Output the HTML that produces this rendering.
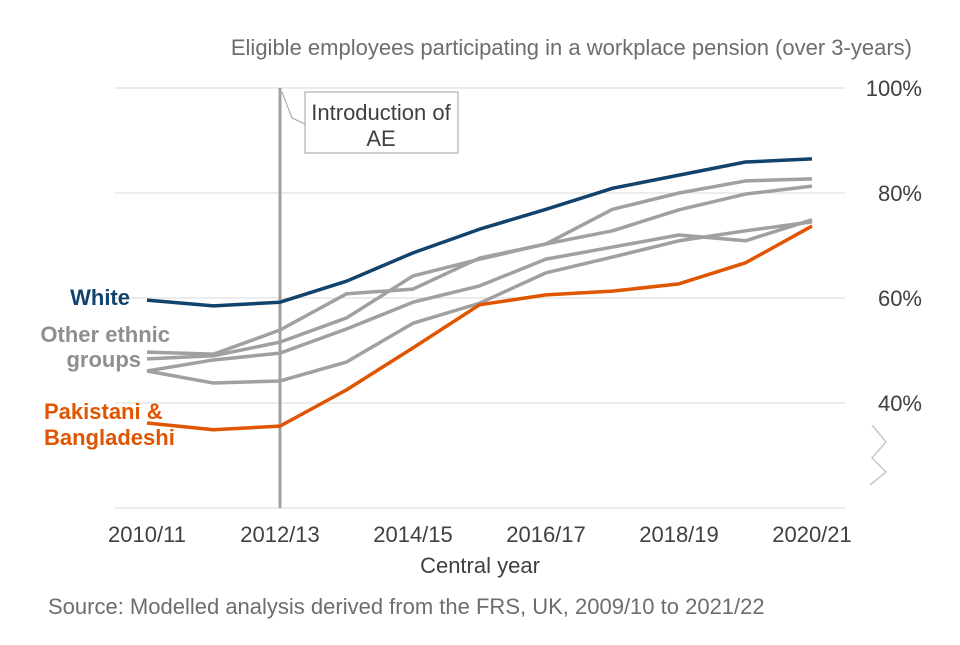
<!DOCTYPE html>
<html><head><meta charset="utf-8"><style>
body{margin:0;background:#fff;font-family:"Liberation Sans",Arial,sans-serif}
</style></head><body>
<svg id="chart" width="960" height="640" xmlns="http://www.w3.org/2000/svg" font-family="Liberation Sans, Arial, sans-serif">
<text x="912" y="55" text-anchor="end" font-size="22" fill="#6d6d6d">Eligible employees participating in a workplace pension (over 3-years)</text>
<g id="grid"></g>
<g id="yticks"></g>
<g id="xticks"></g>
<line x1="280" y1="88" x2="280" y2="508" stroke="#a0a0a0" stroke-width="3"/>
<polyline points="282,92 292,118 305,124" fill="none" stroke="#a0a0a0" stroke-width="1"/>
<rect x="305" y="92" width="153" height="61" fill="#fff" stroke="#a0a0a0"/>
<text x="381" y="120" text-anchor="middle" font-size="22" fill="#404040">Introduction of</text>
<text x="381" y="146" text-anchor="middle" font-size="22" fill="#404040">AE</text>
<polyline points="872,425 886,442 872,458 886,472 870,485" fill="none" stroke="#c8c8c8" stroke-width="1.5"/>
<g id="series"></g>
<text x="130" y="305" text-anchor="end" font-size="22" font-weight="bold" fill="#12436d">White</text>
<text x="170" y="342" text-anchor="end" font-size="22" font-weight="bold" fill="#8f8f8f">Other ethnic</text>
<text x="141" y="367" text-anchor="end" font-size="22" font-weight="bold" fill="#8f8f8f">groups</text>
<text x="44" y="419" font-size="22" font-weight="bold" fill="#e05500">Pakistani &amp;</text>
<text x="44" y="445" font-size="22" font-weight="bold" fill="#e05500">Bangladeshi</text>
<text x="480" y="573" text-anchor="middle" font-size="22" fill="#404040">Central year</text>
<text x="48" y="614" font-size="22" fill="#6d6d6d">Source: Modelled analysis derived from the FRS, UK, 2009/10 to 2021/22</text>
</svg>
<script>
const years=[0,1,2,3,4,5,6,7,8,9,10];
const xLabels=["2010/11","2012/13","2014/15","2016/17","2018/19","2020/21"];
const yTicks=[40,60,80,100];
const white=[59.6,58.5,59.2,63.2,68.6,73.1,76.9,80.9,83.4,85.9,86.5];
const pakBang=[36.2,34.9,35.6,42.5,50.5,58.7,60.6,61.3,62.7,66.7,73.7];
const other1=[49.7,49.3,53.9,60.8,61.7,67.6,70.3,76.9,80.0,82.3,82.7];
const other2=[48.4,49.0,51.6,56.2,64.2,67.4,70.3,72.8,76.8,79.8,81.3];
const other3=[46.1,48.2,49.5,54.1,59.2,62.3,67.4,69.7,72.0,70.9,74.9];
const other4=[46.1,43.8,44.2,47.8,55.2,59.0,64.8,67.8,70.9,72.8,74.5];
const NS="http://www.w3.org/2000/svg";
const x=i=>147+i*66.5;
const y=v=>508-(v-20)*5.25;
function mk(tag,attrs,parent,txt){const e=document.createElementNS(NS,tag);for(const k in attrs)e.setAttribute(k,attrs[k]);if(txt!==undefined)e.textContent=txt;document.getElementById(parent).appendChild(e);return e;}
yTicks.forEach(t=>{
 const l=mk('line',{x1:115,x2:845,y1:y(t),y2:y(t),stroke:'#d9d9d9','stroke-width':1},'grid');
 
 
 const tx=mk('text',{x:922,y:y(t)+8,'text-anchor':'end','font-size':22,fill:'#404040'},'yticks',t+'%');
 
 
});
const ax=mk('line',{x1:115,x2:845,y1:508,y2:508,stroke:'#d9d9d9','stroke-width':1},'grid');


xLabels.forEach((s,i)=>{
 const tx=mk('text',{x:x(i*2),y:542,'text-anchor':'middle','font-size':22,fill:'#404040'},'xticks',s);
 
 
});
function line(d,color,name){
 const p=mk('polyline',{points:d.map((v,i)=>x(years[i])+','+y(v)).join(' '),fill:'none',stroke:color,'stroke-width':3.5,'stroke-linejoin':'round'},'series');
 
 
}
line(other1,'#a0a0a2','line-other-1');
line(other2,'#a0a0a2','line-other-2');
line(other3,'#a0a0a2','line-other-3');
line(other4,'#a0a0a2','line-other-4');
line(white,'#12436d','line-white');
line(pakBang,'#e05500','line-pakistani-bangladeshi');
</script>
</body></html>
